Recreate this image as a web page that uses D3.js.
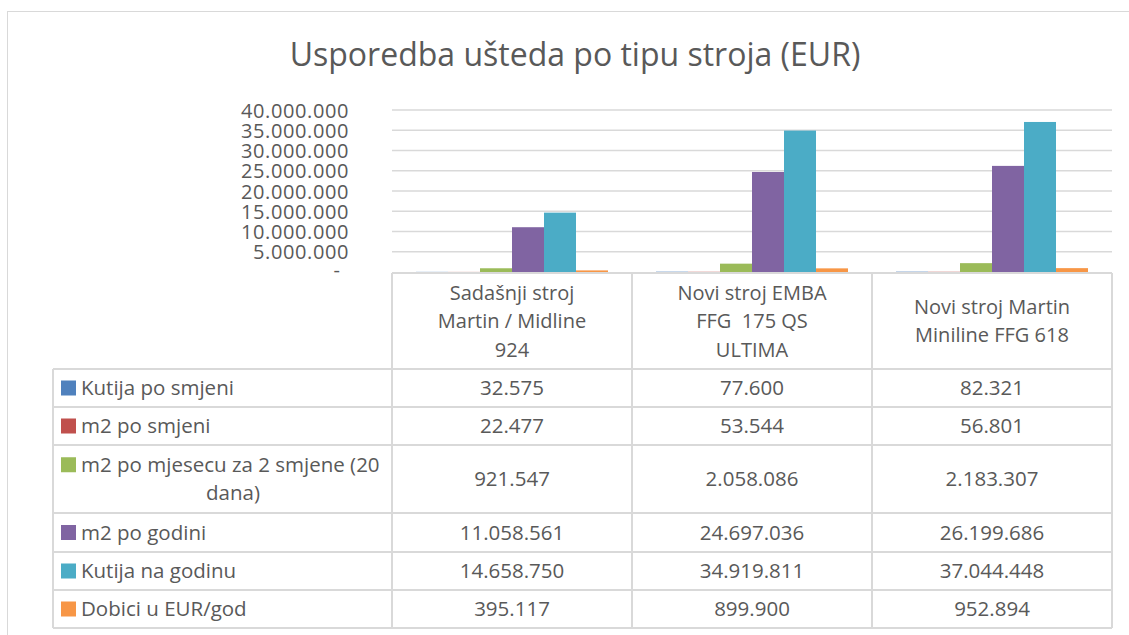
<!DOCTYPE html>
<html>
<head>
<meta charset="utf-8">
<script src="https://cdn.jsdelivr.net/npm/d3@7"></script>
<style>
  html, body { margin: 0; padding: 0; background: #fff; }
  text { font-family: "Open Sans", sans-serif; fill: #595959; white-space: pre; }
</style>
</head>
<body>
<svg id="chart" width="1129" height="635"></svg>
<script>
// ---- DATA ----
const title = "Usporedba ušteda po tipu stroja (EUR)";
const categories = ["Sadašnji stroj\nMartin / Midline\n924", "Novi stroj EMBA\nFFG  175 QS\nULTIMA", "Novi stroj Martin\nMiniline FFG 618"];
const seriesNames = ["Kutija po smjeni", "m2 po smjeni", "m2 po mjesecu za 2 smjene (20\ndana)", "m2 po godini", "Kutija na godinu", "Dobici u EUR/god"];
const kutijaPoSmjeni = [32575, 77600, 82321];
const m2PoSmjeni = [22477, 53544, 56801];
const m2PoMjesecu = [921547, 2058086, 2183307];
const m2PoGodini = [11058561, 24697036, 26199686];
const kutijaNaGodinu = [14658750, 34919811, 37044448];
const dobici = [395117, 899900, 952894];
const seriesValues = [kutijaPoSmjeni, m2PoSmjeni, m2PoMjesecu, m2PoGodini, kutijaNaGodinu, dobici];
const seriesColors = ["#4F81BD", "#C0504D", "#9BBB59", "#8064A2", "#4BACC6", "#F79646"];
const yTicks = [0, 5000000, 10000000, 15000000, 20000000, 25000000, 30000000, 35000000, 40000000];

// ---- LAYOUT ----
const svg = d3.select("#chart");
const plotLeft = 392, plotRight = 1112, plotTop = 110, plotBottom = 272;
const legendLeft = 53;
const headerTop = 273, headerBottom = 369;
const rowHeights = [38, 38, 68, 39, 38, 38];
const gridColor = "#D9D9D9";
const locale = d3.formatLocale({decimal: ",", thousands: ".", grouping: [3], currency: ["", " €"]});
const fmt = locale.format(",d");

// outer border
svg.append("rect").attr("x", 7.5).attr("y", 11.5).attr("width", 1140).attr("height", 640)
  .attr("fill", "none").attr("stroke", gridColor).attr("stroke-width", 1);

// title
svg.append("text").attr("x", 575).attr("y", 66).attr("text-anchor", "middle")
  .style("font-size", "32px").text(title);

// scales
const y = d3.scaleLinear().domain([0, 40000000]).range([plotBottom, plotTop]);
const x0 = d3.scaleBand().domain(categories).range([plotLeft, plotRight]).paddingInner(0).paddingOuter(0);
const x1 = d3.scaleBand().domain(d3.range(seriesNames.length)).range([0, x0.bandwidth()]).paddingInner(0).paddingOuter(0.75);

// gridlines + y axis labels
const yAxis = d3.axisLeft(y).tickValues(yTicks).tickSize(0).tickFormat(d => d === 0 ? "" : fmt(d));
const gAxis = svg.append("g").attr("transform", `translate(${plotLeft},0)`).call(yAxis);
gAxis.select(".domain").remove();
gAxis.selectAll(".tick text").attr("x", -43).attr("dy", "0.35em")
  .style("font-size", "20px").style("font-family", "'Open Sans', sans-serif").attr("fill", "#595959")
  .style("letter-spacing", "0.6px");
gAxis.selectAll(".tick").filter(d => d === 0).append("text")
  .attr("x", -52).attr("dy", "0.2em").attr("text-anchor", "end")
  .style("font-size", "20px").attr("fill", "#595959").text("-");
svg.append("g").selectAll("line").data(yTicks.filter(d => d > 0)).join("line")
  .attr("x1", plotLeft).attr("x2", plotRight).attr("y1", d => y(d)).attr("y2", d => y(d))
  .attr("stroke", gridColor).attr("stroke-width", 1.6);

// bars
const gCats = svg.append("g").selectAll("g").data(categories).join("g")
  .attr("transform", d => `translate(${x0(d)},0)`);
gCats.selectAll("rect").data((c, ci) => seriesValues.map((vals, si) => ({si, v: vals[ci]})))
  .join("rect")
  .attr("x", d => x1(d.si)).attr("width", x1.bandwidth())
  .attr("y", d => y(d.v)).attr("height", d => Math.max(0, plotBottom - y(d.v)))
  .attr("fill", d => seriesColors[d.si]);

// ---- TABLE ----
const rowTops = [headerBottom];
rowHeights.forEach(h => rowTops.push(rowTops[rowTops.length - 1] + h));
const tableBottom = rowTops[rowTops.length - 1];
const tbl = svg.append("g").attr("stroke", gridColor).attr("stroke-width", 2);
tbl.append("line").attr("x1", plotLeft).attr("x2", plotRight).attr("y1", headerTop).attr("y2", headerTop);
rowTops.forEach(t => tbl.append("line").attr("x1", legendLeft).attr("x2", plotRight).attr("y1", t).attr("y2", t));
tbl.append("line").attr("x1", legendLeft).attr("x2", legendLeft).attr("y1", headerBottom).attr("y2", tableBottom);
const colEdges = categories.map(c => x0(c)).concat([plotRight]);
colEdges.forEach(xe => tbl.append("line").attr("x1", xe).attr("x2", xe).attr("y1", headerTop).attr("y2", tableBottom));

// header texts
const lineH = 28.5;
const headerMid = (headerTop + headerBottom) / 2;
categories.forEach(c => {
  const lines = c.split("\n");
  const t = svg.append("text").attr("text-anchor", "middle").style("font-size", "20px");
  lines.forEach((ln, i) => {
    t.append("tspan").attr("x", x0(c) + x0.bandwidth() / 2)
      .attr("y", headerMid + 7 + (i - (lines.length - 1) / 2) * lineH).text(ln);
  });
});

// legend rows + values
seriesNames.forEach((name, si) => {
  const top = rowTops[si], h = rowHeights[si];
  const mid = top + h / 2;
  const lines = name.split("\n");
  if (lines.length === 1) {
    svg.append("rect").attr("x", 61).attr("y", mid - 7.5).attr("width", 15).attr("height", 15).attr("fill", seriesColors[si]);
    svg.append("text").attr("x", 81).attr("y", mid + 7).style("font-size", "20.5px").text(lines[0]);
  } else {
    const b1 = mid + 7 - lineH / 2;
    svg.append("rect").attr("x", 61).attr("y", b1 - 14.5).attr("width", 15).attr("height", 15).attr("fill", seriesColors[si]);
    svg.append("text").attr("x", 81).attr("y", b1).style("font-size", "20.5px").text(lines[0]);
    svg.append("text").attr("x", 233).attr("y", b1 + lineH).attr("text-anchor", "middle").style("font-size", "20.5px").text(lines[1]);
  }
  categories.forEach((c, ci) => {
    svg.append("text").attr("x", x0(c) + x0.bandwidth() / 2).attr("y", mid + 7)
      .attr("text-anchor", "middle").style("font-size", "20.5px").text(fmt(seriesValues[si][ci]));
  });
});
</script>
</body>
</html>
